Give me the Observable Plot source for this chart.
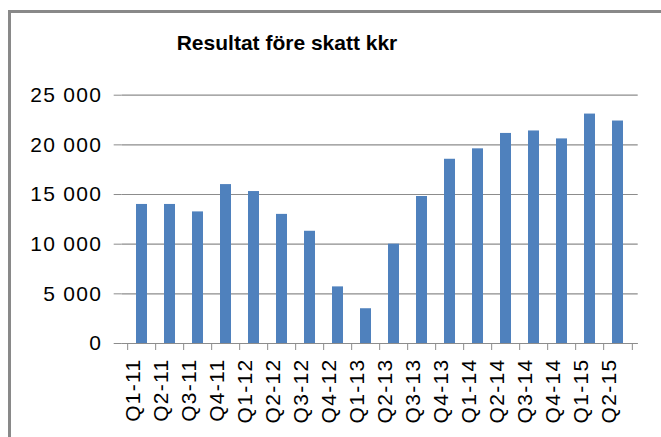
<!DOCTYPE html>
<html>
<head>
<meta charset="utf-8">
<script src="https://cdn.jsdelivr.net/npm/d3@7"></script>
<script src="https://cdn.jsdelivr.net/npm/@observablehq/plot@0.6"></script>
<style>
  html, body { margin: 0; padding: 0; background: #fff; }
  #wrap { position: relative; width: 661px; height: 437px; overflow: hidden; background: #fff; font-family: "Liberation Sans", Arial, sans-serif; }
  #frame { position: absolute; left: 8px; top: 10px; width: 800px; height: 600px; border-left: 3px solid #898989; border-top: 3px solid #898989; }
  #title { position: absolute; left: 0; top: 32px; width: 574px; text-align: center; font-size: 21px; line-height: 21px; font-weight: bold; color: #000; }
  #chart { position: absolute; left: 0; top: 0; }
  #chart svg { background: transparent; overflow: visible; }
  #chart text { letter-spacing: 1.3px; }
</style>
</head>
<body>
<div id="wrap">
  <div id="frame"></div>
  <div id="chart"></div>
  <div id="title">Resultat före skatt kkr</div>
</div>
<script>
const title = "Resultat före skatt kkr";
const quarters = ["Q1-11","Q2-11","Q3-11","Q4-11","Q1-12","Q2-12","Q3-12","Q4-12","Q1-13","Q2-13","Q3-13","Q4-13","Q1-14","Q2-14","Q3-14","Q4-14","Q1-15","Q2-15"];
const values = [14000,14000,13250,16000,15300,13000,11300,5700,3500,10000,14800,18550,19600,21150,21400,20600,23100,22400];
const yTicks = [0,5000,10000,15000,20000,25000];

const data = quarters.map((q, i) => ({q, v: values[i]}));
const fmt = d => d3.format(",")(d).replace(/,/g, " ");

const W = 661, H = 437;
const mL = 121.7, mR = 23.3, mT = 94.7, mB = 94;
const step = (W - mL - mR) / quarters.length;
const gray = "#8c8c8c";

const chart = Plot.plot({
  width: W,
  height: H,
  marginLeft: mL,
  marginRight: mR,
  marginTop: mT,
  marginBottom: mB,
  style: {fontFamily: "'Liberation Sans', Arial, sans-serif", background: "transparent"},
  x: {domain: quarters, paddingInner: 0.6, paddingOuter: 0.3, axis: null},
  y: {domain: [0, 25000], axis: null},
  marks: [
    Plot.gridY(yTicks, {stroke: gray, strokeOpacity: 1, strokeWidth: 1.2}),
    Plot.barY(data, {x: "q", y: "v", fill: "#4F81BD"}),
    Plot.ruleY([0], {stroke: gray, strokeWidth: 1.2}),
    Plot.axisY(yTicks, {tickSize: 8, tickPadding: 12, tickFormat: fmt, stroke: gray, fill: "#000", fontSize: 21, label: null}),
    Plot.axisX({tickSize: 7, tickFormat: () => "", dx: -step / 2, stroke: gray, label: null}),
    Plot.axisX([quarters[quarters.length - 1]], {tickSize: 7, tickFormat: () => "", dx: step / 2, stroke: gray, label: null}),
    Plot.axisX({tickSize: 0, tickPadding: 15, tickRotate: -90, dx: -9, fontSize: 21, fill: "#000", label: null})
  ]
});
document.getElementById("chart").appendChild(chart);
</script>
</body>
</html>
